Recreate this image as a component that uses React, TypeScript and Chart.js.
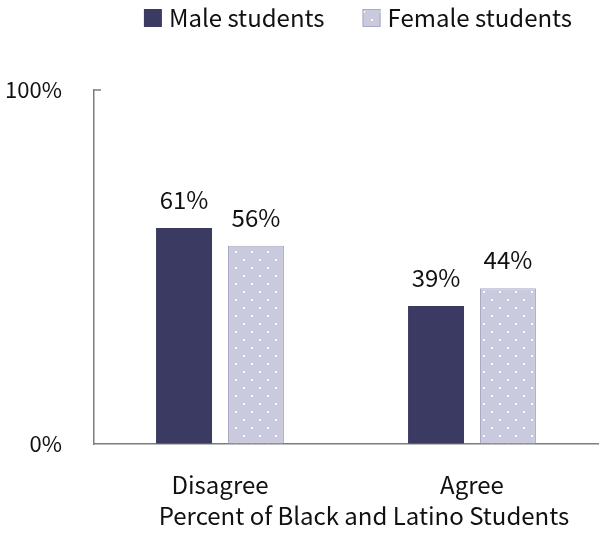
import { useEffect, useRef } from "react";
import { Chart, registerables } from "chart.js";

Chart.register(...registerables);

// Survey answers by group
const categories = ["Disagree", "Agree"];
const maleValues = [61, 39];
const femaleValues = [56, 44];
const seriesLabels = ["Male students", "Female students"];
const yTickValues = [0, 100];
const axisTitle = "Percent of Black and Latino Students";

const FONT = '"Noto Sans CJK SC", "Noto Sans", sans-serif';
const TEXT = "#111111";
const AXIS = "#7d7d7d";
const MALE = "#3a3a62";
const FEMALE = "#cacade";
const FEMALE_EDGE = "#a9a9c3";

function dotPattern(): CanvasPattern | string {
  const c = document.createElement("canvas");
  c.width = 16;
  c.height = 16;
  const g = c.getContext("2d");
  if (!g) return FEMALE;
  g.fillStyle = FEMALE;
  g.fillRect(0, 0, 16, 16);
  g.fillStyle = "rgba(255,255,255,0.9)";
  g.fillRect(3, 3, 2, 2);
  g.fillRect(11, 11, 2, 2);
  return g.createPattern(c, "repeat") || FEMALE;
}

const overlay = {
  id: "overlay",
  afterDraw(chart: any) {
    const ctx = chart.ctx as CanvasRenderingContext2D;
    const area = chart.chartArea;
    const yScale = chart.scales.y;
    ctx.save();

    // value labels above bars
    ctx.font = `24px ${FONT}`;
    ctx.fillStyle = TEXT;
    ctx.textAlign = "center";
    ctx.textBaseline = "alphabetic";
    chart.data.datasets.forEach((ds: any, di: number) => {
      const meta = chart.getDatasetMeta(di);
      meta.data.forEach((bar: any, i: number) => {
        ctx.fillText(`${ds.data[i]}%`, bar.x, bar.y - 19);
      });
    });

    // short inward tick at the top of the value axis
    const yTop = yScale.getPixelForValue(100);
    ctx.strokeStyle = AXIS;
    ctx.lineWidth = 1.5;
    ctx.beginPath();
    ctx.moveTo(area.left, yTop);
    ctx.lineTo(area.left + 7, yTop);
    ctx.stroke();

    // category axis title
    ctx.font = `24px ${FONT}`;
    ctx.textBaseline = "alphabetic";
    ctx.textAlign = "center";
    ctx.fillText(axisTitle, (area.left + area.right) / 2 + 18, area.bottom + 81);

    // legend
    ctx.font = `24px ${FONT}`;
    ctx.textAlign = "left";
    ctx.textBaseline = "middle";
    const box = 18;
    const gapText = 7;
    const gapItem = 38;
    const widths = seriesLabels.map((l) => ctx.measureText(l).width);
    const total = widths.reduce((s, w) => s + box + gapText + w, 0) + gapItem * (seriesLabels.length - 1);
    let x = 358 - total / 2;
    const cy = 18;
    chart.data.datasets.forEach((ds: any, di: number) => {
      ctx.fillStyle = ds.backgroundColor;
      ctx.fillRect(x, cy - box / 2, box, box);
      if (ds.borderWidth) {
        ctx.strokeStyle = ds.borderColor;
        ctx.lineWidth = 1;
        ctx.strokeRect(x + 0.5, cy - box / 2 + 0.5, box - 1, box - 1);
      }
      ctx.fillStyle = TEXT;
      ctx.fillText(seriesLabels[di], x + box + gapText, cy);
      x += box + gapText + widths[di] + gapItem;
    });

    ctx.restore();
  },
};

export default function App() {
  const ref = useRef<HTMLCanvasElement>(null);

  useEffect(() => {
    document.body.style.margin = "0";
    const canvas = ref.current;
    if (!canvas) return;
    const chart = new Chart(canvas, {
      type: "bar",
      data: {
        labels: categories,
        datasets: [
          {
            label: seriesLabels[0],
            data: maleValues,
            backgroundColor: MALE,
            borderWidth: 0,
            categoryPercentage: 0.571,
            barPercentage: 0.778,
          },
          {
            label: seriesLabels[1],
            data: femaleValues,
            backgroundColor: dotPattern() as any,
            borderColor: FEMALE_EDGE,
            borderWidth: 1,
            categoryPercentage: 0.571,
            barPercentage: 0.778,
          },
        ],
      },
      options: {
        responsive: false,
        animation: false,
        layout: { padding: { top: 90, right: 1, left: 0, bottom: 0 } },
        plugins: {
          legend: { display: false },
          tooltip: { enabled: false },
        },
        scales: {
          x: {
            grid: { display: true, drawOnChartArea: false, drawTicks: false },
            border: { display: true, color: AXIS, width: 1.5 },
            ticks: { color: TEXT, font: { family: FONT, size: 24 }, padding: 26 },
            afterFit: (s: any) => {
              s.height = 91;
            },
          },
          y: {
            min: 0,
            max: 100,
            afterBuildTicks: (s: any) => {
              s.ticks = yTickValues.map((v) => ({ value: v }));
            },
            grid: { display: true, drawOnChartArea: false, drawTicks: false },
            border: { display: true, color: AXIS, width: 1.5 },
            ticks: {
              color: TEXT,
              font: { family: FONT, size: 22 },
              padding: 32,
              callback: (v: any) => `${v}%`,
            },
            afterFit: (s: any) => {
              s.width = 94;
            },
          },
        },
      },
      plugins: [overlay],
    });
    return () => chart.destroy();
  }, []);

  return (
    <div style={{ width: 599, height: 535 }}>
      <canvas ref={ref} width={599} height={535} />
    </div>
  );
}
